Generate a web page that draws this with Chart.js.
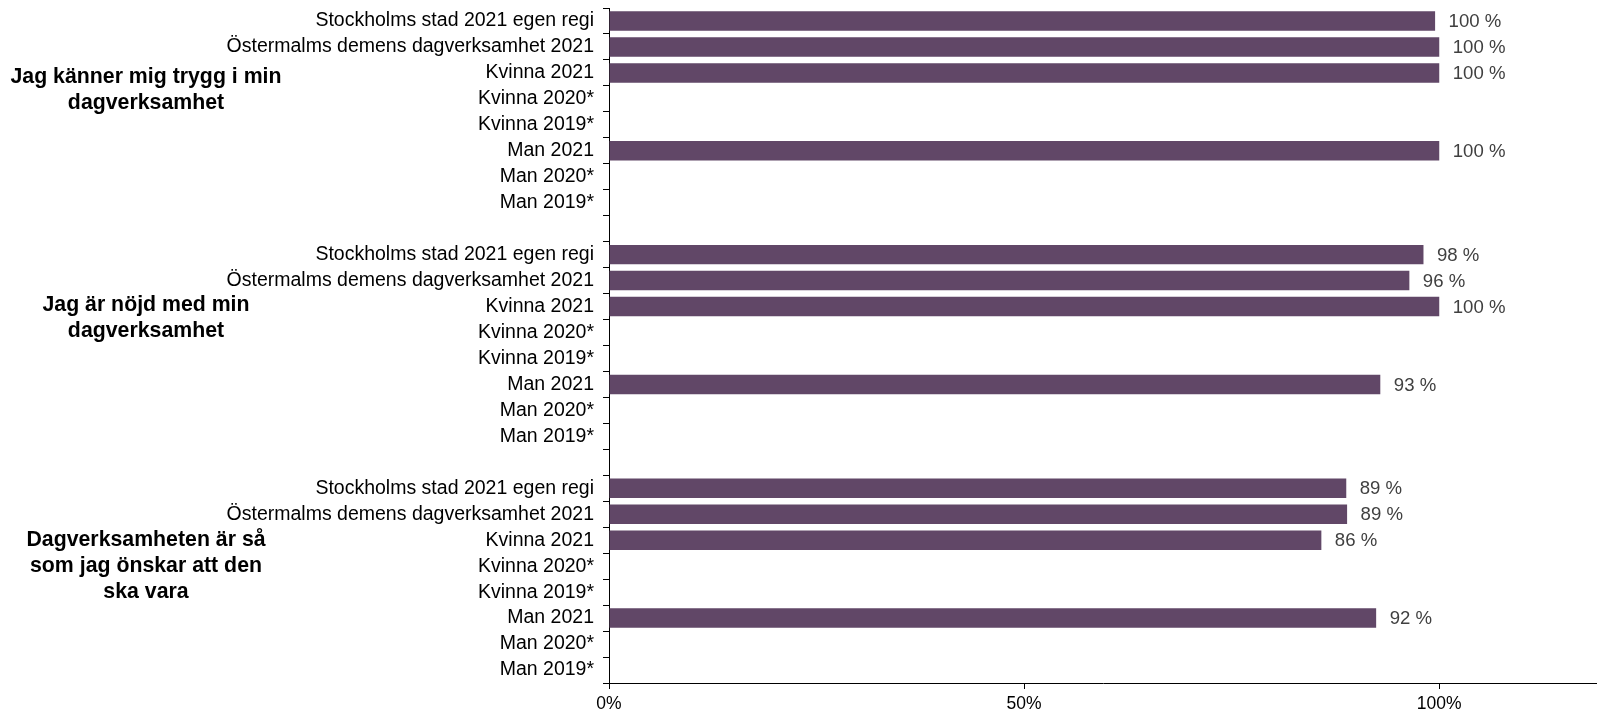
<!DOCTYPE html>
<html>
<head>
<meta charset="utf-8">
<script src="https://cdn.jsdelivr.net/npm/chart.js@4/dist/chart.umd.min.js"></script>
<style>
  body { margin: 0; background: #fff; overflow: hidden; }
  #wrap { position: relative; width: 1597px; height: 711px; }
</style>
</head>
<body>
<div id="wrap"><canvas id="enkat-barchart"></canvas></div>
<script>
// Kategorier per fraga
var delgrupper = ['Stockholms stad 2021 egen regi', 'Östermalms demens dagverksamhet 2021', 'Kvinna 2021', 'Kvinna 2020*', 'Kvinna 2019*', 'Man 2021', 'Man 2020*', 'Man 2019*'];
var fragor = [
  ['Jag känner mig trygg i min', 'dagverksamhet'],
  ['Jag är nöjd med min', 'dagverksamhet'],
  ['Dagverksamheten är så', 'som jag önskar att den', 'ska vara']
];
// Andel (%) per fraga
var trygg = [99.5, 100, 100, null, null, 100, null, null];
var nojd = [98.1, 96.4, 100, null, null, 92.9, null, null];
var onskar = [88.8, 88.9, 85.8, null, null, 92.4, null, null];
var xTicks = [0, 50, 100];

// bygg etiketter och varden med en tom rad mellan fragorna
var etiketter = delgrupper.concat([''], delgrupper, [''], delgrupper);
var varden = trygg.concat([null], nojd, [null], onskar);
var gruppStart = [0, delgrupper.length + 1, 2 * (delgrupper.length + 1)];
var radStart = [2.15, 1.95, 2.0]; // forsta radens plats i gruppen (kategoristeg)

var familj = "'Liberation Sans', Arial, sans-serif";

var fragePlugin = {
  id: 'fragor',
  afterDraw: function(chart) {
    var ctx = chart.ctx;
    var y = chart.scales.y;
    ctx.save();
    ctx.font = 'bold 21.3px ' + familj;
    ctx.fillStyle = '#000';
    ctx.textAlign = 'center';
    ctx.textBaseline = 'middle';
    fragor.forEach(function(rader, g) {
      rader.forEach(function(rad, i) {
        ctx.fillText(rad, 146, y.getPixelForValue(gruppStart[g] + radStart[g] + i));
      });
    });
    ctx.restore();
  }
};

var vardePlugin = {
  id: 'varden',
  afterDatasetsDraw: function(chart) {
    var ctx = chart.ctx;
    var meta = chart.getDatasetMeta(0);
    ctx.save();
    ctx.font = '18.6px ' + familj;
    ctx.fillStyle = '#404040';
    ctx.textAlign = 'left';
    ctx.textBaseline = 'middle';
    meta.data.forEach(function(bar, i) {
      var v = varden[i];
      if (v === null) return;
      ctx.fillText(Math.round(v) + ' %', bar.x + 13.5, bar.y + 1);
    });
    ctx.restore();
  }
};

new Chart(document.getElementById('enkat-barchart').getContext('2d'), {
  type: 'bar',
  data: {
    labels: etiketter,
    datasets: [{
      data: varden,
      backgroundColor: '#614767',
      borderWidth: 0,
      barPercentage: 0.75,
      categoryPercentage: 1
    }]
  },
  options: {
    indexAxis: 'y',
    responsive: true,
    maintainAspectRatio: false,
    animation: false,
    layout: { padding: { top: 8, right: 0, left: 0, bottom: 0 } },
    plugins: {
      legend: { display: false },
      tooltip: { enabled: false }
    },
    scales: {
      x: {
        min: 0,
        max: 119,
        afterBuildTicks: function(scale) {
          scale.ticks = xTicks.map(function(v) { return { value: v }; });
        },
        afterFit: function(scale) {
          scale.height = 28;
          scale.paddingLeft = 0;
          scale.paddingRight = 0;
        },
        grid: { drawOnChartArea: false, tickLength: 6, color: '#000' },
        border: { display: true, color: '#000', width: 1 },
        ticks: {
          padding: 5,
          color: '#000',
          font: { family: familj, size: 17.5 },
          callback: function(v) { return v + '%'; }
        }
      },
      y: {
        afterFit: function(scale) {
          scale.width = 609;
          scale.paddingTop = 0;
          scale.paddingBottom = 0;
        },
        grid: { drawOnChartArea: false, offset: true, tickLength: 6, color: '#000' },
        border: { display: true, color: '#000', width: 1 },
        ticks: {
          autoSkip: false,
          padding: 9,
          color: '#000',
          font: { family: familj, size: 19.5 }
        }
      }
    }
  },
  plugins: [vardePlugin, fragePlugin]
});
</script>
</body>
</html>
